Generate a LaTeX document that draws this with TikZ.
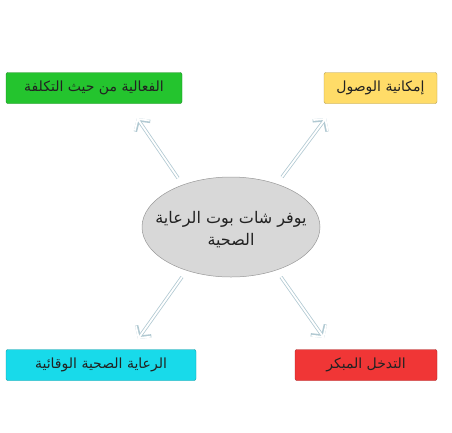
\documentclass[tikz,border=0pt]{standalone}
\usepackage{fontspec}
\newfontfamily\arabicfont[Script=Arabic]{DejaVu Sans}
\TeXXeTstate=1
\usetikzlibrary{arrows.meta, positioning, shapes.geometric}
\definecolor{benefitgreen}{RGB}{36,196,46}
\definecolor{benefityellow}{RGB}{255,220,104}
\definecolor{benefitcyan}{RGB}{24,218,234}
\definecolor{benefitred}{RGB}{240,54,54}
\definecolor{hubgrey}{RGB}{216,216,216}
\definecolor{flowcol}{RGB}{186,214,224}
\definecolor{inkcol}{RGB}{34,34,34}

\begin{document}
\begin{tikzpicture}[x=1pt, y=-1pt,
    benefit/.style={draw=#1!70!black, fill=#1, rounded corners=2pt,
        line width=0.4pt, minimum height=31pt, inner sep=0pt,
        font=\fontsize{14}{16}\selectfont\arabicfont, text=inkcol},
    hub/.style={ellipse, draw=gray!80, fill=hubgrey, line width=0.5pt,
        minimum width=178pt, minimum height=100pt, inner sep=0pt},
    hubtext/.style={align=center, inner sep=0pt,
        font=\fontsize{16}{22}\selectfont\arabicfont, text=inkcol},
    flowout/.style={draw=flowcol!85!gray, line width=3.4pt,
        -{Straight Barb[length=8pt, width=18pt]}},
    flowin/.style={draw=white, line width=1.8pt,
        -{Straight Barb[length=8pt, width=18pt]}}]
    \useasboundingbox (0,0) rectangle (452,432);

    % centre
    \node[hub] (hub) at (231,227) {};
    \node[hubtext] (hubtext) at ([yshift=-3pt]hub.center)
        {\beginR يوفر شات بوت الرعاية\endR\\ \beginR الصحية\endR};

    % the four benefits
    \node[benefit=benefitgreen, minimum width=176pt] (cost) at (94,88)
        {\beginR الفعالية من حيث التكلفة\endR};
    \node[benefit=benefityellow, minimum width=113pt] (access) at (380.5,88)
        {\beginR إمكانية الوصول\endR};
    \node[benefit=benefitcyan, minimum width=190pt] (prevent) at (101,365)
        {\beginR الرعاية الصحية الوقائية\endR};
    \node[benefit=benefitred, minimum width=142pt] (early) at (366,365)
        {\beginR التدخل المبكر\endR};

    % arrow ends
    \coordinate (s1) at (178,178);  \coordinate (t1) at (137,118);
    \coordinate (s2) at (282,177);  \coordinate (t2) at (326,118);
    \coordinate (s3) at (182,277);  \coordinate (t3) at (138,339);
    \coordinate (s4) at (281,277);  \coordinate (t4) at (324,338);

    \foreach \i in {1,...,4} {
        \draw[flowout] (s\i) -- (t\i);
        \draw[flowin] (s\i) -- (t\i);
    }
\end{tikzpicture}
\end{document}
